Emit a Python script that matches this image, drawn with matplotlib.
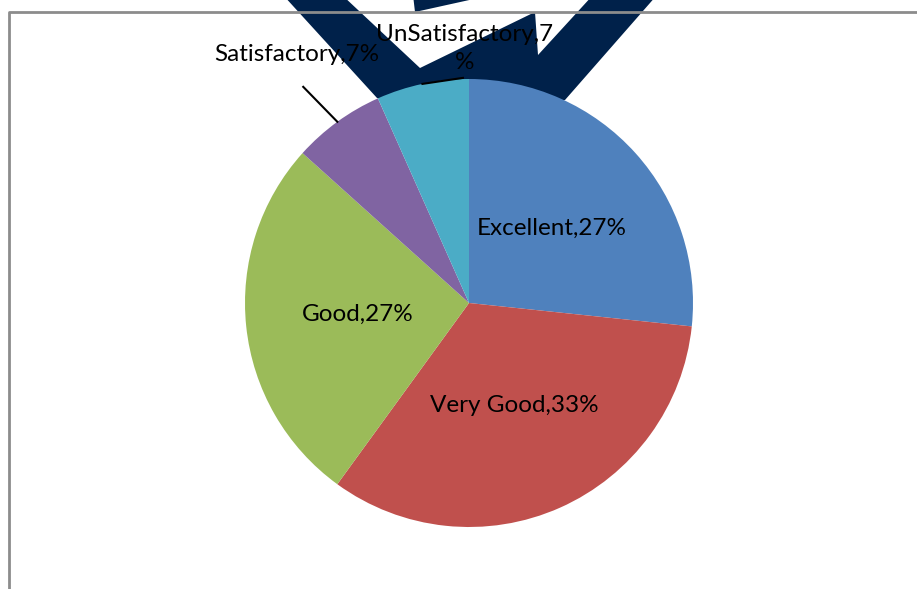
import numpy as np
import matplotlib
matplotlib.use("Agg")
import matplotlib.pyplot as plt
from matplotlib.patches import Polygon
from matplotlib.lines import Line2D

plt.rcParams['font.family'] = ['Lato', 'DejaVu Sans']

# data
categories = ['Excellent', 'Very Good', 'Good', 'Satisfactory', 'UnSatisfactory']
counts = [4, 5, 4, 1, 1]
pct_labels = ['27%', '33%', '27%', '7%', '7%']
colors = ['#4F81BD', '#C0504D', '#9BBB59', '#8064A2', '#4BACC6']

W, H = 917, 589
fig = plt.figure(figsize=(W / 100, H / 100), dpi=100)


def px(x, y):
    # pixel coords (y down) -> figure fraction
    return (x / W, 1 - y / H)


# navy logo behind the chart
navy = '#00214A'
outer = [(283, -5), (377, 98), (470, 120), (565, 100), (657, -5)]
fig.patches.append(Polygon([px(*p) for p in outer], closed=True, fc=navy, ec='none',
                           transform=fig.transFigure, zorder=-2))
hole = [(342, -5), (413, -5), (415, 12), (492, -5), (593, -5), (538, 55), (535, 12), (420, 68)]
fig.patches.append(Polygon([px(*p) for p in hole], closed=True, fc='white', ec='none',
                           transform=fig.transFigure, zorder=-1))

# chart frame (left and top)
fig.lines.append(Line2D([8.5 / W, 8.5 / W, 1.0], [0, 1 - 12 / H, 1 - 12 / H], color='#8C8C8C',
                        lw=2, transform=fig.transFigure, zorder=3))

cx, cy, r = 469, 303, 224
ax = fig.add_axes([(cx - r) / W, (H - cy - r) / H, 2 * r / W, 2 * r / H])
ax.patch.set_alpha(0)
wedges, _ = ax.pie(counts, colors=colors, startangle=90, counterclock=False,
                   radius=1, wedgeprops=dict(linewidth=0))
ax.set_xlim(-1, 1)
ax.set_ylim(-1, 1)
ax.axis('off')

fs = 17.5
# inside labels
for w, cat, p in zip(wedges[:3], categories[:3], pct_labels[:3]):
    ang = np.deg2rad((w.theta1 + w.theta2) / 2)
    ax.text(0.5 * np.cos(ang), 0.5 * np.sin(ang), f'{cat},{p}', ha='center', va='center',
            fontsize=fs, color='black')

# Satisfactory - outside with leader line
w = wedges[3]
ang = np.deg2rad((w.theta1 + w.theta2) / 2)
ax.text(-0.77, 1.11, f'{categories[3]},{pct_labels[3]}', ha='center', va='center',
        fontsize=fs, color='black')
ax.plot([-0.74, np.cos(ang)], [0.965, np.sin(ang)], color='black', lw=1.5, clip_on=False)

# UnSatisfactory - wrapped label
w = wedges[4]
ang = np.deg2rad((w.theta1 + w.theta2) / 2)
ax.text(-0.02, 1.135, f'{categories[4]},7\n%', ha='center', va='center',
        fontsize=fs, color='black', linespacing=1.4)
ax.plot([np.cos(ang), -0.027], [np.sin(ang), 1.005], color='black', lw=1.5, clip_on=False)

fig.savefig('out.png', dpi=100)
